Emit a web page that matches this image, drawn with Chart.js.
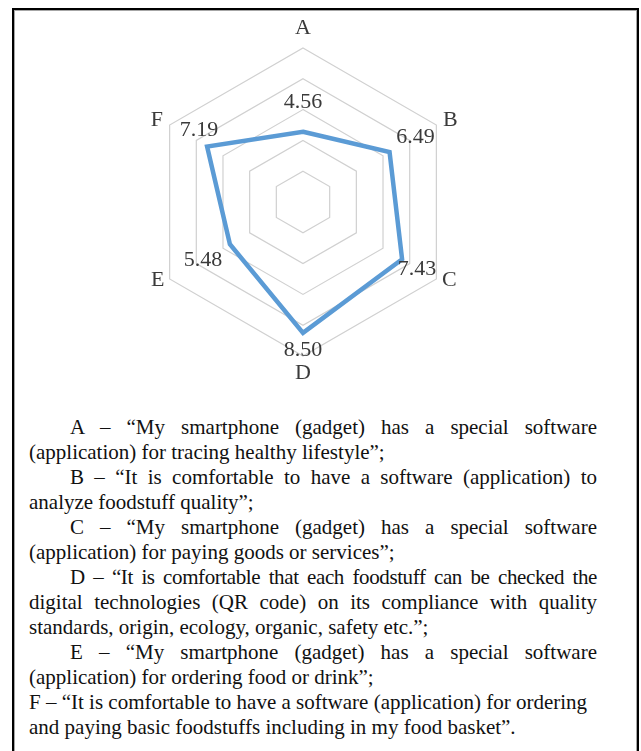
<!DOCTYPE html>
<html>
<head>
<meta charset="utf-8">
<script src="https://cdn.jsdelivr.net/npm/chart.js@4.4.1/dist/chart.umd.min.js"></script>
<style>
  html, body { margin: 0; padding: 0; background: #fff; }
  body { width: 641px; height: 751px; position: relative; overflow: hidden;
         font-family: "Liberation Serif", "Times New Roman", serif; }
  .frame { position: absolute; left: 12px; top: 8px; width: 623px; height: 760px;
           border: 2px solid #000; box-shadow: inset 1px 1px 0 #a6a6a6, inset -1px 0 0 #a6a6a6; }
  .chart-box { position: absolute; left: 0; top: 0; width: 641px; height: 390px; }
  .notes { position: absolute; left: 29px; top: 415px; width: 568px;
           font-size: 21px; line-height: 25px; color: #111; }
  .ln { text-align: justify; text-align-last: justify; white-space: nowrap; }
  .end { text-align: left; text-align-last: left; white-space: nowrap; }
  .ind { padding-left: 41px; }
  .tight { letter-spacing: -0.4px; }
</style>
</head>
<body>
<div class="frame"></div>
<div class="chart-box"><canvas id="radarChart"></canvas></div>

<div class="notes">
  <div class="ln ind">A &ndash; &ldquo;My smartphone (gadget) has a special software</div>
  <div class="end">(application) for tracing healthy lifestyle&rdquo;;</div>
  <div class="ln ind">B &ndash; &ldquo;It is comfortable to have a software (application) to</div>
  <div class="end">analyze foodstuff quality&rdquo;;</div>
  <div class="ln ind">C &ndash; &ldquo;My smartphone (gadget) has a special software</div>
  <div class="end">(application) for paying goods or services&rdquo;;</div>
  <div class="ln ind tight">D &ndash; &ldquo;It is comfortable that each foodstuff can be checked the</div>
  <div class="ln">digital technologies (QR code) on its compliance with quality</div>
  <div class="end">standards, origin, ecology, organic, safety etc.&rdquo;;</div>
  <div class="ln ind">E &ndash; &ldquo;My smartphone (gadget) has a special software</div>
  <div class="end">(application) for ordering food or drink&rdquo;;</div>
  <div class="end">F &ndash; &ldquo;It is comfortable to have a software (application) for ordering</div>
  <div class="end">and paying basic foodstuffs including in my food basket&rdquo;.</div>
</div>

<script>
// chart data
const categories = ['A', 'B', 'C', 'D', 'E', 'F'];
const scores = [4.56, 6.49, 7.43, 8.50, 5.48, 7.19];
const axisMin = 0;
const axisMax = 10;
const axisStep = 2;

// small pixel nudges for the text around the hexagon
const categoryNudge = [[0, -4], [0, 3], [-1, -7], [0, 1], [2, -7], [1, 3]];
const valueNudge = [[0, -30], [26, -15], [15, 10], [0, 17], [-27, 16], [-8, -16]];

const textPlugin = {
    id: 'radarText',
    afterDatasetsDraw(chart) {
        const scale = chart.scales.r;
        const ctx = chart.ctx;
        ctx.save();
        ctx.font = '22px "Liberation Serif", serif';
        ctx.fillStyle = '#3a3a3a';
        ctx.textAlign = 'center';
        ctx.textBaseline = 'middle';

        categories.forEach((cat, i) => {
            const p = scale.getPointPosition(i, scale.drawingArea + 16);
            ctx.fillText(cat, p.x + categoryNudge[i][0], p.y + categoryNudge[i][1]);
        });

        scores.forEach((v, i) => {
            const p = scale.getPointPositionForValue(i, v);
            ctx.fillText(v.toFixed(2), p.x + valueNudge[i][0], p.y + valueNudge[i][1]);
        });
        ctx.restore();
    }
};

new Chart(document.getElementById('radarChart'), {
    type: 'radar',
    data: {
        labels: categories,
        datasets: [{
            data: scores,
            borderColor: '#5b9bd5',
            backgroundColor: 'rgba(0,0,0,0)',
            borderWidth: 4.5,
            borderJoinStyle: 'miter',
            fill: false,
            pointRadius: 0,
            pointHoverRadius: 0
        }]
    },
    options: {
        responsive: true,
        maintainAspectRatio: false,
        animation: false,
        layout: { padding: { left: 149, right: 184, top: 48, bottom: 34 } },
        scales: {
            r: {
                min: axisMin,
                max: axisMax,
                ticks: { display: false, stepSize: axisStep },
                grid: { color: '#d0d0d0', lineWidth: 1.2 },
                angleLines: { display: false },
                pointLabels: { display: false }
            }
        },
        plugins: {
            legend: { display: false },
            tooltip: { enabled: false }
        }
    },
    plugins: [textPlugin]
});
</script>
</body>
</html>
